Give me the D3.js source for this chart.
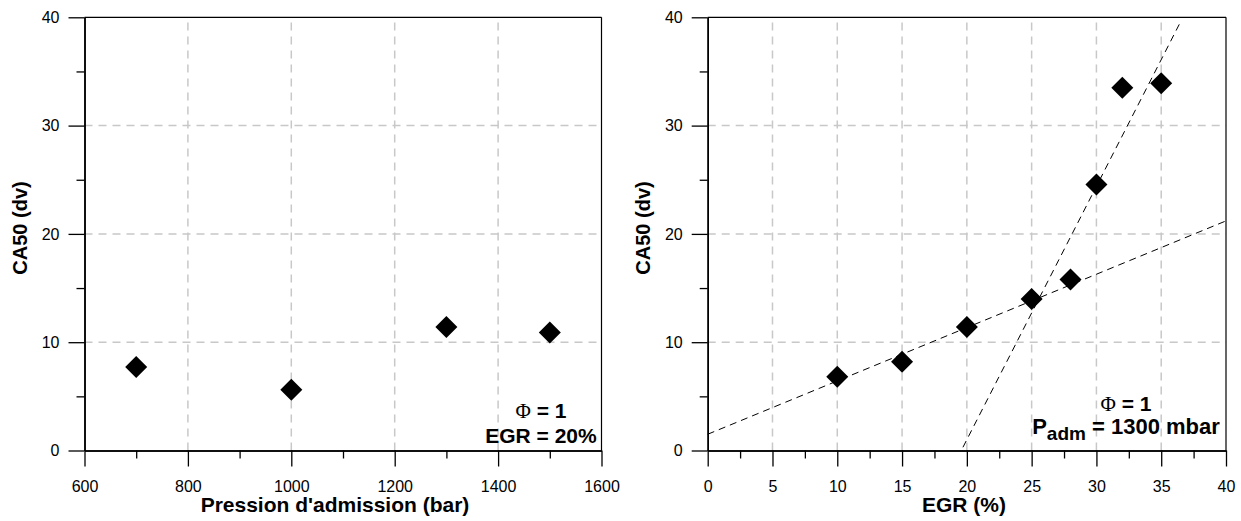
<!DOCTYPE html>
<html>
<head>
<meta charset="utf-8">
<script src="https://cdn.jsdelivr.net/npm/d3@7"></script>
<style>
  body { margin: 0; background: #fff; }
  svg { display: block; }
  text { font-family: "Liberation Sans", Arial, sans-serif; }
</style>
</head>
<body>
<svg id="chart" width="1241" height="521"></svg>
<script>
// ---- data ----
const pressure = [700, 1000, 1300, 1500];
const ca50Pressure = [7.7, 5.6, 11.4, 10.9];

const egr = [10, 15, 20, 25, 28, 30, 32, 35];
const ca50Egr = [6.8, 8.2, 11.4, 14.0, 15.8, 24.55, 33.5, 33.9];

// dashed trend lines (end points)
const fitLowX = [0, 40];
const fitLowY = [1.5, 21.2];
const fitHighX = [19.7, 36.5];
const fitHighY = [0.3, 39.6];

const yTicks = [0, 10, 20, 30, 40];
const yMinor = [5, 15, 25, 35];
const pressureTicks = [600, 800, 1000, 1200, 1400, 1600];
const pressureMinor = [700, 900, 1100, 1300, 1500];
const egrTicks = [0, 5, 10, 15, 20, 25, 30, 35, 40];
const egrMinor = [2.5, 7.5, 12.5, 17.5, 22.5, 27.5, 32.5, 37.5];

const svg = d3.select("#chart");
const plotTop = 17.3, plotBottom = 450.5;

function panel(opts) {
  const x = d3.scaleLinear().domain(opts.xDomain).range([opts.left, opts.right]);
  const y = d3.scaleLinear().domain([0, 40]).range([plotBottom, plotTop]);
  const g = svg.append("g");

  // grid
  const xGrid = opts.xTicks.slice(1, -1);
  g.selectAll(".vgrid").data(xGrid).enter().append("line")
    .attr("x1", d => x(d)).attr("x2", d => x(d))
    .attr("y1", y(0)).attr("y2", y(40))
    .attr("stroke", "#c8c8c8").attr("stroke-width", 1.5).attr("stroke-dasharray", "8,6");
  g.selectAll(".hgrid").data(yTicks.slice(1, -1)).enter().append("line")
    .attr("x1", x.range()[0]).attr("x2", x.range()[1])
    .attr("y1", d => y(d)).attr("y2", d => y(d))
    .attr("stroke", "#c8c8c8").attr("stroke-width", 1.5).attr("stroke-dasharray", "8,6");

  // frame top/right
  g.append("line").attr("x1", x.range()[0]).attr("x2", x.range()[1])
    .attr("y1", y(40)).attr("y2", y(40)).attr("stroke", "#000").attr("stroke-width", 1.2);
  g.append("line").attr("x1", x.range()[1]).attr("x2", x.range()[1])
    .attr("y1", y(0)).attr("y2", y(40)).attr("stroke", "#000").attr("stroke-width", 1.2);

  // axes
  const fmt = d3.format("d");
  g.append("g").attr("transform", `translate(0,${plotBottom})`)
    .call(d3.axisBottom(x).tickValues(opts.xTicks).tickFormat(fmt).tickSize(16).tickPadding(14).tickSizeOuter(0));
  g.append("g").attr("transform", `translate(0,${plotBottom})`)
    .call(d3.axisBottom(x).tickValues(opts.xMinor).tickSize(8).tickFormat("").tickSizeOuter(0));
  g.append("g").attr("transform", `translate(${opts.left},0)`)
    .call(d3.axisLeft(y).tickValues(yTicks).tickFormat(fmt).tickSize(16).tickPadding(9).tickSizeOuter(0));
  g.append("g").attr("transform", `translate(${opts.left},0)`)
    .call(d3.axisLeft(y).tickValues(yMinor).tickSize(8).tickFormat("").tickSizeOuter(0));
  g.selectAll(".domain").attr("stroke", "#000").attr("stroke-width", 1.5);
  g.selectAll(".tick line").attr("stroke", "#000").attr("stroke-width", 1.3);
  g.selectAll(".tick text").attr("font-size", 16).attr("fill", "#000")
    .attr("font-family", "Liberation Sans, Arial, sans-serif");

  // trend lines
  if (opts.fits) {
    opts.fits.forEach(f => {
      const pts = f[0].map((v, i) => [v, f[1][i]]);
      g.append("path").datum(pts)
        .attr("d", d3.line().x(d => x(d[0])).y(d => y(d[1])))
        .attr("stroke", "#000").attr("stroke-width", 1).attr("fill", "none")
        .attr("stroke-dasharray", "7,5");
    });
  }

  // markers
  const sym = d3.symbol().type(d3.symbolSquare).size(242);
  g.selectAll(".pt").data(opts.xs.map((v, i) => [v, opts.ys[i]])).enter().append("path")
    .attr("d", sym)
    .attr("transform", d => `translate(${x(d[0])},${y(d[1])}) rotate(45)`)
    .attr("fill", "#000");

  // axis titles
  g.append("text").attr("x", opts.titleX).attr("y", 512)
    .attr("text-anchor", "middle").attr("font-size", 21).attr("font-weight", "bold")
    .text(opts.xTitle);
  g.append("text").attr("transform", `translate(${opts.left - 58},228) rotate(-90)`)
    .attr("text-anchor", "middle").attr("font-size", 20).attr("font-weight", "bold")
    .text("CA50 (dv)");

  // annotation
  const a1 = g.append("text").attr("x", opts.noteX).attr("y", opts.noteY1)
    .attr("text-anchor", "middle").attr("font-size", 21).attr("font-weight", "bold");
  a1.append("tspan").attr("font-family", "Liberation Serif, Times New Roman, serif")
    .attr("font-weight", "normal").text("Φ");
  a1.append("tspan").text(" = 1");
  const a2 = g.append("text").attr("x", opts.noteX).attr("y", opts.noteY2)
    .attr("text-anchor", "middle").attr("font-size", opts.note2Size).attr("font-weight", "bold");
  opts.note2(a2);
}

panel({
  left: 84.5, right: 601.5, xDomain: [600, 1600],
  xTicks: pressureTicks, xMinor: pressureMinor,
  xs: pressure, ys: ca50Pressure,
  xTitle: "Pression d'admission (bar)", titleX: 335,
  noteX: 541, noteY1: 418, noteY2: 443, note2Size: 21,
  note2: t => t.text("EGR = 20%")
});

panel({
  left: 707.7, right: 1226, xDomain: [0, 40],
  xTicks: egrTicks, xMinor: egrMinor,
  xs: egr, ys: ca50Egr,
  xTitle: "EGR (%)", titleX: 964,
  fits: [[fitLowX, fitLowY], [fitHighX, fitHighY]],
  noteX: 1126, noteY1: 411, noteY2: 434, note2Size: 22,
  note2: t => {
    t.append("tspan").text("P");
    t.append("tspan").attr("font-size", 19).attr("dy", 6).text("adm");
    t.append("tspan").attr("dy", -6).text(" = 1300 mbar");
  }
});
</script>
</body>
</html>
